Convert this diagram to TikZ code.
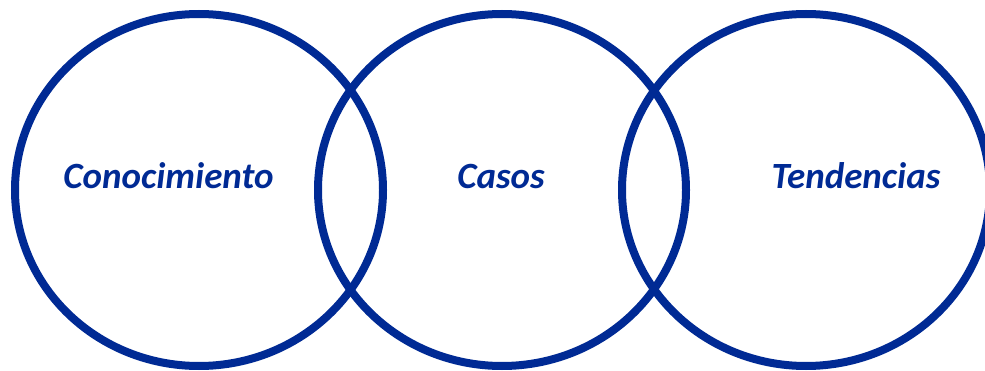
\documentclass[tikz,border=0pt]{standalone}
\usepackage{fontspec}
\setmainfont{Carlito}
\usepackage{xcolor}
\definecolor{ringblue}{RGB}{0,42,148}
\usepackage{tikz}

\begin{document}
\begin{tikzpicture}[x=1pt,y=1pt,
        ring/.style={draw=ringblue, line width=8pt},
        label/.style={text=ringblue, font=\fontsize{37}{37}\selectfont\bfseries\itshape, anchor=base, inner sep=0pt}]
        \useasboundingbox (0,0) rectangle (985,370);
        \begin{scope}
            \clip (0,0) rectangle (985,370);
            % three rings
            \draw[ring] (199,180) ellipse (184 and 176);
            \draw[ring] (502,180) ellipse (184 and 176);
            \draw[ring] (806,180) ellipse (184 and 176);
        \end{scope}

        % labels
        \node[label] (con) at (168.5,182) {Conocimiento};
        \node[label] (cas) at (501,182) {Casos};
        \node[label] (ten) at (856,182) {Tendencias};
    \end{tikzpicture}
\end{document}
